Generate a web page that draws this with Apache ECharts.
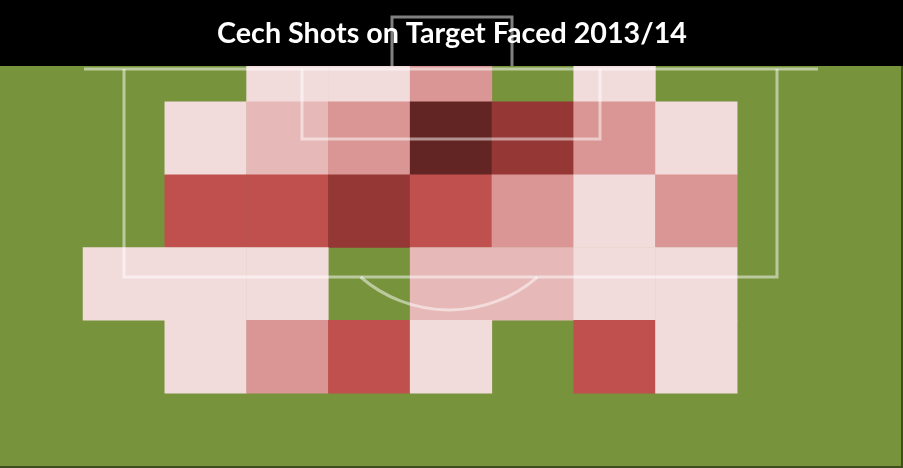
<!DOCTYPE html>
<html>
<head>
<meta charset="utf-8">
<script src="https://cdn.jsdelivr.net/npm/echarts@6/dist/echarts.min.js"></script>
<style>html,body{margin:0;padding:0;background:#fff}#c{width:903px;height:468px}</style>
</head>
<body>
<div id="c"></div>
<script>
// Zones across the pitch (left to right) and down from the goal line (top to bottom)
var columns = ['C1','C2','C3','C4','C5','C6','C7','C8','C9'];
var rows = ['R1','R2','R3','R4','R5','R6'];
// Shot intensity level per zone (0 = none)
var row1 = [0,0,1,1,3,0,1,0,0];
var row2 = [0,1,2,3,6,5,3,1,0];
var row3 = [0,4,4,5,4,3,1,3,0];
var row4 = [1,1,1,0,2,2,1,1,0];
var row5 = [0,1,3,4,1,0,4,1,0];
var row6 = [0,0,0,0,0,0,0,0,0];
var titleText = 'Cech Shots on Target Faced 2013/14';

var allRows = [row1,row2,row3,row4,row5,row6];
var data = [];
allRows.forEach(function(r, ri){
  r.forEach(function(v, ci){ if (v > 0) data.push([ci, ri, v]); });
});

var chart = echarts.init(document.getElementById('c'), null, {renderer:'canvas'});
var lineCol = 'rgba(255,255,255,0.5)';
var titleFont = 'Lato';
// fit title width
var cv = document.createElement('canvas').getContext('2d');
var fs = 27;
cv.font = 'bold ' + fs + 'px ' + titleFont;
var w = cv.measureText(titleText).width;
fs = fs * 470 / w;

chart.setOption({
  backgroundColor: '#77933C',
  animation: false,
  grid: {left: 83, top: 29, width: 736, height: 437},
  xAxis: {type:'category', data: columns, show:false},
  yAxis: {type:'category', data: rows, inverse:true, show:false},
  visualMap: {
    show: false, type: 'piecewise', dimension: 2,
    pieces: [
      {value:1, color:'#F2DCDB'},
      {value:2, color:'#E6B9B8'},
      {value:3, color:'#D99694'},
      {value:4, color:'#C0504D'},
      {value:5, color:'#953735'},
      {value:6, color:'#632523'}
    ]
  },
  series: [{
    type: 'heatmap', data: data,
    itemStyle: {borderWidth: 0},
    emphasis: {disabled: true}
  }],
  graphic: [
    // pitch markings
    {type:'polyline', z:50, shape:{points:[[84,69],[818,69]]}, style:{stroke:lineCol, lineWidth:3, fill:null}},
    {type:'polyline', z:50, shape:{points:[[124,69],[124,277],[777,277],[777,69]]}, style:{stroke:lineCol, lineWidth:3, fill:null}},
    {type:'polyline', z:50, shape:{points:[[302,69],[302,139],[600,139],[600,69]]}, style:{stroke:lineCol, lineWidth:3, fill:null}},
    {type:'arc', z:50, shape:{cx:449, cy:175, r:135, startAngle:0.857, endAngle:2.285, clockwise:true}, style:{stroke:lineCol, lineWidth:3, fill:null}},
    // title bar
    {type:'rect', z:60, shape:{x:0, y:0, width:903, height:66}, style:{fill:'#000'}},
    // goal
    {type:'polyline', z:61, shape:{points:[[392,66],[392,17],[512,17],[512,66]]}, style:{stroke:'#808080', lineWidth:3, fill:null}},
    {type:'text', z:62, style:{text:titleText, x:452, y:34, textAlign:'center', textVerticalAlign:'middle', fill:'#fff', font:'bold ' + fs.toFixed(1) + 'px ' + titleFont}},
    // frame edges
    {type:'line', z:63, shape:{x1:0, y1:467, x2:903, y2:467}, style:{stroke:'#3d4f1f', lineWidth:2}},
    {type:'line', z:63, shape:{x1:902, y1:66, x2:902, y2:468}, style:{stroke:'#3d4f1f', lineWidth:2}}
  ]
});
</script>
</body>
</html>
